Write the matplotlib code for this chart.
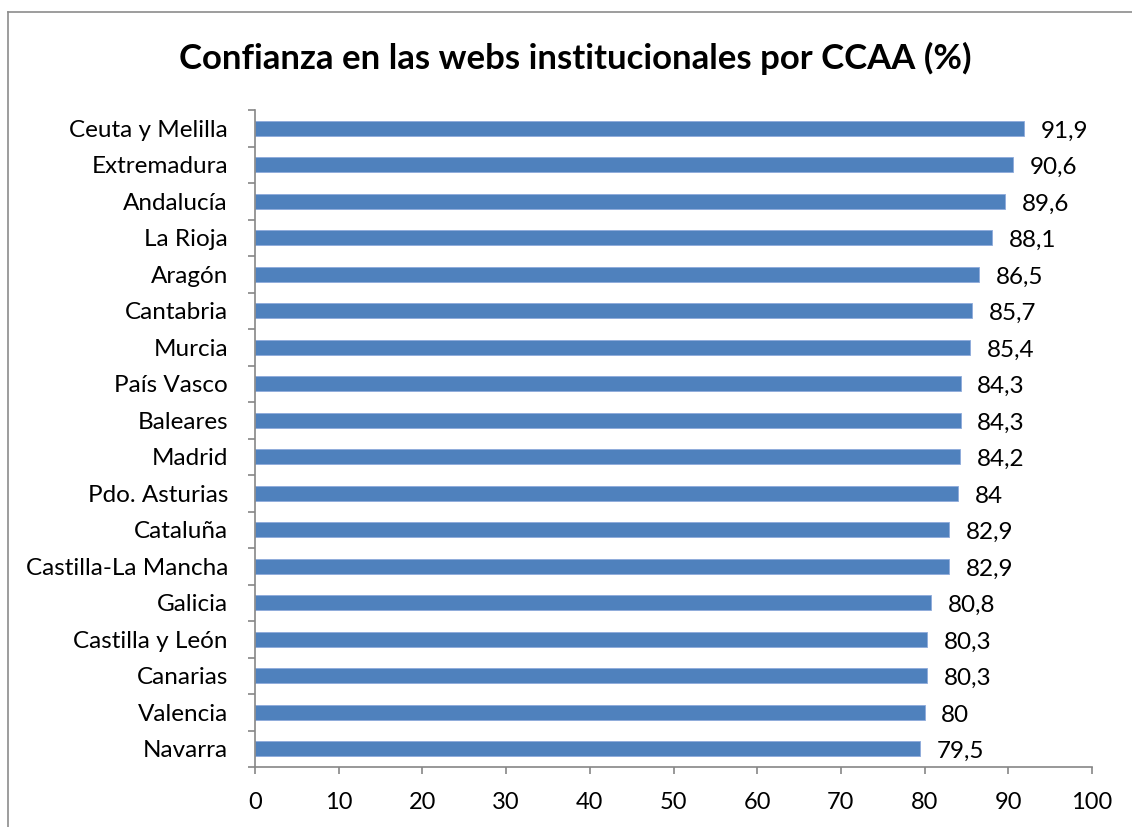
import matplotlib
matplotlib.use("Agg")
import matplotlib.pyplot as plt
from matplotlib.lines import Line2D

categories = ["Ceuta y Melilla", "Extremadura", "Andalucía", "La Rioja", "Aragón",
              "Cantabria", "Murcia", "País Vasco", "Baleares", "Madrid",
              "Pdo. Asturias", "Cataluña", "Castilla-La Mancha", "Galicia",
              "Castilla y León", "Canarias", "Valencia", "Navarra"]
values = [91.9, 90.6, 89.6, 88.1, 86.5, 85.7, 85.4, 84.3, 84.3, 84.2,
          84, 82.9, 82.9, 80.8, 80.3, 80.3, 80, 79.5]
value_labels = ["91,9", "90,6", "89,6", "88,1", "86,5", "85,7", "85,4", "84,3", "84,3",
                "84,2", "84", "82,9", "82,9", "80,8", "80,3", "80,3", "80", "79,5"]
xticks = list(range(0, 101, 10))
title = "Confianza en las webs institucionales por CCAA (%)"

plt.rcParams['font.family'] = ['Lato', 'DejaVu Sans']

W, H = 1132, 827
fig = plt.figure(figsize=(W / 100, H / 100), dpi=100)
ax = fig.add_axes([255 / W, 1 - 767 / H, (1092 - 255) / W, (767 - 110) / H])

n = len(categories)
ypos = list(range(n))[::-1]
ax.barh(ypos, values, height=0.4, color="#4F81BD", edgecolor="#8EAADB", linewidth=0.6)
for y, v, lab in zip(ypos, values, value_labels):
    ax.annotate(lab, (v, y), xytext=(12, -2), textcoords="offset points",
                ha="left", va="center", fontsize=17.5, color="black")

ax.set_xlim(0, 100)
ax.set_ylim(-0.5, n - 0.5)
ax.set_xticks(xticks)
ax.set_xticklabels([str(t) for t in xticks], fontsize=17)
ax.set_yticks(ypos)
ax.set_yticklabels(categories, fontsize=17.5)
ax.set_yticks([i - 0.5 for i in range(n + 1)], minor=True)
ax.tick_params(axis="y", which="major", length=0, pad=19.5)
ax.tick_params(axis="y", which="minor", length=5, color="#868686", width=1.2, direction="out")
ax.tick_params(axis="x", which="major", length=5, color="#868686", width=1.2, direction="out", pad=13)
for s in ["top", "right"]:
    ax.spines[s].set_visible(False)
for s in ["left", "bottom"]:
    ax.spines[s].set_color("#868686")
    ax.spines[s].set_linewidth(1.2)

fig.text(575 / W, 1 - 58 / H, title, ha="center", va="center", fontsize=25, fontweight="bold")

# chart border (top and left visible)
fig.add_artist(Line2D([8 / W, 1], [1 - 12 / H, 1 - 12 / H], transform=fig.transFigure, color="#8c8c8c", lw=1.2))
fig.add_artist(Line2D([8 / W, 8 / W], [0, 1 - 12 / H], transform=fig.transFigure, color="#8c8c8c", lw=1.2))

fig.savefig("out.png", dpi=100)
